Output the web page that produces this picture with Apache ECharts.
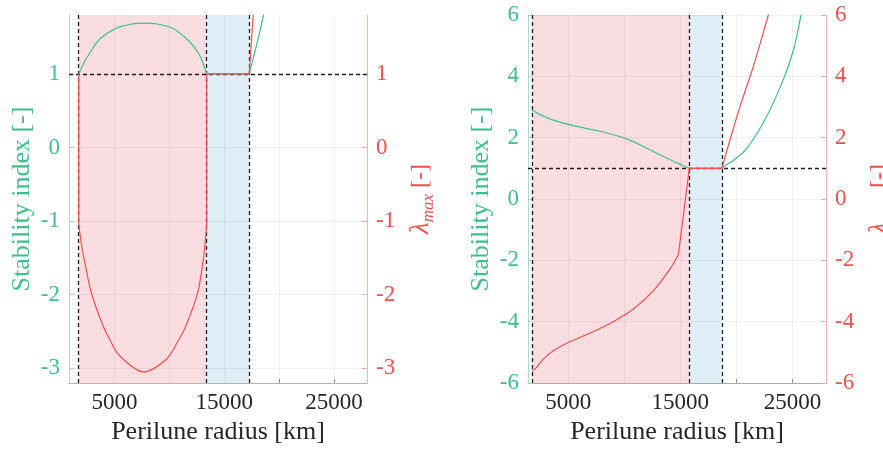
<!DOCTYPE html>
<html><head><meta charset="utf-8">
<script src="https://cdn.jsdelivr.net/npm/echarts@6/dist/echarts.min.js"></script>
<style>html,body{margin:0;padding:0;background:#fff}#c{width:883px;height:452px}</style>
</head><body><div id="c"></div>
<script>
// ---- data ----
const xTickLabels = [5000, 15000, 25000];
const xGridValues = [5000, 10000, 15000, 20000, 25000];
const leftYTicks = [-3, -2, -1, 0, 1];
const rightYTicks = [-6, -4, -2, 0, 2, 4, 6];
const leftBounds = [1737, 13400, 17270];
const rightBounds = [1737, 15800, 18700];
const unitLevel = 1;

// left panel: stability index (green)
const lgArchX = [1737, 2273, 2727, 3636, 5152, 6667, 7636, 8788, 10303, 11818, 12727, 13400];
const lgArchY = [1.0, 1.167, 1.28, 1.47, 1.62, 1.68, 1.69, 1.68, 1.62, 1.44, 1.26, 1.0];
const lgFlatX = [13400, 17270];
const lgFlatY = [1.0, 1.0];
const lgRiseX = [17270, 17700, 18150, 18573, 18900];
const lgRiseY = [1.0, 1.25, 1.52, 1.8, 2.0];
// left panel: lambda max (red)
const lrJumpX = [1737, 1737];
const lrJumpY = [1.0, -1.0];
const lrBowlX = [1737, 1760, 1800, 1950, 2100, 2273, 2879, 3939, 4600, 5455, 7636, 9697, 10672, 11515, 12576, 13091, 13250, 13340, 13385, 13400];
const lrBowlY = [-1.0, -1.05, -1.12, -1.28, -1.42, -1.55, -1.97, -2.42, -2.62, -2.83, -3.05, -2.88, -2.66, -2.42, -1.97, -1.52, -1.3, -1.14, -1.05, -1.0];
const lrFlatX = [13400, 13400, 17270];
const lrFlatY = [-1.0, 1.0, 1.0];
const lrRiseX = [17270, 17450, 17636, 17800];
const lrRiseY = [1.0, 1.4, 1.8, 2.15];

// right panel: stability index (green)
const rgFallX = [1737, 2473, 3661, 5446, 7830, 10214, 12589, 14375, 15800];
const rgFallY = [2.9, 2.75, 2.57, 2.39, 2.21, 1.96, 1.55, 1.23, 1.0];
const rgFlatX = [15800, 18700];
const rgFlatY = [1.0, 1.0];
const rgRiseX = [18700, 19100, 19589, 20929, 22714, 24196, 25089, 25777, 26100];
const rgRiseY = [1.0, 1.12, 1.22, 1.65, 2.7, 3.9, 4.85, 6.0, 6.5];
// right panel: lambda max (red)
const rrRiseX = [1737, 2027, 2768, 3661, 5000, 6938, 9018, 10804, 12589, 14080, 14821];
const rrRiseY = [-5.6, -5.55, -5.22, -4.95, -4.68, -4.37, -4.0, -3.59, -2.99, -2.28, -1.82];
const rrJumpX = [14821, 15800, 18700];
const rrJumpY = [-1.82, 1.0, 1.0];
const rrUpX = [18700, 19438, 20330, 21518, 22857, 23100];
const rrUpY = [1.0, 1.94, 3.02, 4.33, 6.0, 6.3];

// ---- styling ----
const FONT = "'Liberation Serif', 'Times New Roman', serif";
const GREEN = '#3fbf8b';
const RED = '#f2504c';
const PINK = '#fadde1';
const BLUE = '#dfeef6';
const zip = (xs, ys) => xs.map((x, i) => [x, ys[i]]);
const fmt = v => String(v);

function xAxis(gi, min) {
  return {
    type: 'value', gridIndex: gi, min: min, max: 28000,
    axisLine: { show: true, onZero: false, lineStyle: { color: '#b5b5b5', width: 1 } },
    axisTick: { show: true, inside: true, length: 4, customValues: xGridValues, lineStyle: { color: '#999' } },
    axisLabel: { customValues: xTickLabels, formatter: fmt, color: '#262626', fontFamily: FONT, fontSize: 23, margin: 8 },
    splitLine: { show: false },
    name: 'Perilune radius [km]', nameLocation: 'middle', nameGap: 36,
    nameTextStyle: { fontFamily: FONT, fontSize: 26, color: '#262626' }
  };
}
function yAxisL(gi, min, max, ticks) {
  return {
    type: 'value', gridIndex: gi, position: 'left', min: min, max: max,
    axisLine: { show: true, onZero: false, lineStyle: { color: '#a9e0c8', width: 1 } },
    axisTick: { show: true, inside: true, length: 5, customValues: ticks, lineStyle: { color: '#a9e0c8' } },
    axisLabel: { customValues: ticks, formatter: fmt, color: GREEN, fontFamily: FONT, fontSize: 23, margin: 9 },
    splitLine: { show: false },
    name: 'Stability index [-]', nameLocation: 'middle', nameRotate: 90, nameGap: 34,
    nameTextStyle: { fontFamily: FONT, fontSize: 26, color: GREEN }
  };
}
function yAxisR(gi, min, max, ticks, gap) {
  return {
    type: 'value', gridIndex: gi, position: 'right', min: min, max: max,
    axisLine: { show: true, onZero: false, lineStyle: { color: '#f8b3b1', width: 1 } },
    axisTick: { show: true, inside: true, length: 5, customValues: ticks, lineStyle: { color: '#f8b3b1' } },
    axisLabel: { customValues: ticks, formatter: fmt, color: RED, fontFamily: FONT, fontSize: 23, margin: 9 },
    splitLine: { show: false },
    name: '{l|λ}{s|max}{r| [-]}', nameLocation: 'middle', nameRotate: 90, nameGap: gap,
    nameTextStyle: {
      color: RED, fontFamily: FONT,
      rich: {
        l: { fontSize: 27, fontStyle: 'italic', fontFamily: FONT, color: RED, verticalAlign: 'top' },
        s: { fontSize: 17, fontStyle: 'italic', fontFamily: FONT, color: RED, verticalAlign: 'top', padding: [13, 0, 0, 0] },
        r: { fontSize: 24, fontFamily: FONT, color: RED, verticalAlign: 'top', padding: [2, 0, 0, 0] }
      }
    }
  };
}
function helpers(xi, yi, bounds, yTicks) {
  return [
    {
      type: 'line', xAxisIndex: xi, yAxisIndex: yi, data: [], silent: true, z: 1,
      markArea: {
        silent: true, z: 1,
        data: [
          [{ xAxis: bounds[0], itemStyle: { color: PINK } }, { xAxis: bounds[1] }],
          [{ xAxis: bounds[1], itemStyle: { color: BLUE } }, { xAxis: bounds[2] }]
        ]
      }
    },
    {
      type: 'line', xAxisIndex: xi, yAxisIndex: yi, data: [], silent: true, z: 2,
      markLine: {
        silent: true, symbol: ['none', 'none'], label: { show: false }, z: 2,
        lineStyle: { color: 'rgba(0,0,0,0.06)', type: 'solid', width: 1 },
        emphasis: { disabled: true },
        data: xGridValues.map(v => ({ xAxis: v })).concat(yTicks.map(v => ({ yAxis: v })))
      }
    },
    {
      type: 'line', xAxisIndex: xi, yAxisIndex: yi, data: [], silent: true, z: 3,
      markLine: {
        silent: true, symbol: ['none', 'none'], label: { show: false }, z: 3,
        lineStyle: { color: '#1e1e1e', type: [4, 3], width: 1.3 },
        emphasis: { disabled: true },
        data: bounds.map(v => ({ xAxis: v })).concat([{ yAxis: unitLevel }])
      }
    }
  ];
}
function curve(xi, yi, xs, ys, color, smooth) {
  return {
    type: 'line', xAxisIndex: xi, yAxisIndex: yi, data: zip(xs, ys), showSymbol: false, symbol: 'none',
    smooth: smooth ? 0.3 : false,
    lineStyle: { color: color, width: 1.2 }, z: 5, silent: true, clip: true
  };
}

const option = {
  animation: false,
  backgroundColor: '#ffffff',
  grid: [
    { left: 69, right: 516, top: 15, bottom: 69, containLabel: false, outerBoundsMode: 'none' },
    { left: 528, right: 57, top: 15, bottom: 69, containLabel: false, outerBoundsMode: 'none' }
  ],
  xAxis: [xAxis(0, 850), xAxis(1, 1400)],
  yAxis: [
    yAxisL(0, -3.2, 1.8, leftYTicks),
    yAxisR(0, -3.2, 1.8, leftYTicks, 40),
    yAxisL(1, -6, 6, rightYTicks),
    yAxisR(1, -6, 6, rightYTicks, 40)
  ],
  series: [].concat(
    helpers(0, 0, leftBounds, leftYTicks),
    helpers(1, 2, rightBounds, rightYTicks),
    [
      curve(0, 0, lgArchX, lgArchY, GREEN, true),
      curve(0, 0, lgFlatX, lgFlatY, GREEN, false),
      curve(0, 0, lgRiseX, lgRiseY, GREEN, true),
      curve(0, 1, lrJumpX, lrJumpY, RED, false),
      curve(0, 1, lrBowlX, lrBowlY, RED, true),
      curve(0, 1, lrFlatX, lrFlatY, RED, false),
      curve(0, 1, lrRiseX, lrRiseY, RED, true),
      curve(1, 2, rgFallX, rgFallY, GREEN, true),
      curve(1, 2, rgFlatX, rgFlatY, GREEN, false),
      curve(1, 2, rgRiseX, rgRiseY, GREEN, true),
      curve(1, 3, rrRiseX, rrRiseY, RED, true),
      curve(1, 3, rrJumpX, rrJumpY, RED, false),
      curve(1, 3, rrUpX, rrUpY, RED, true)
    ]
  )
};
const chart = echarts.init(document.getElementById('c'), null, { renderer: 'canvas' });
chart.setOption(option);
</script></body></html>
